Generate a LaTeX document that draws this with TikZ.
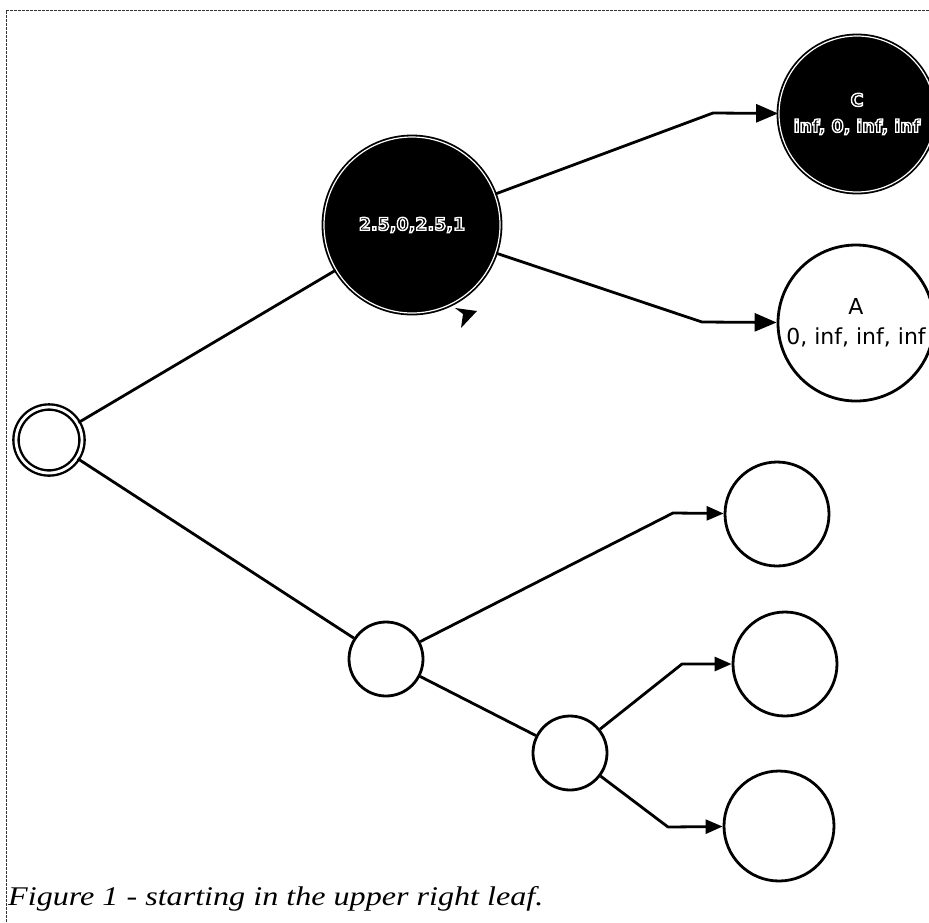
\documentclass[tikz,border=0pt]{standalone}
\usepackage{fontspec}
\setmainfont{Liberation Serif}
\setsansfont{DejaVu Sans}
\usetikzlibrary{arrows.meta}

% outlined lettering for labels on dark discs: black fill, white stroke
\newcommand\halotext[1]{%
  \special{pdf:code 2 Tr 1.4 w 1 1 1 RG}#1\special{pdf:code 0 Tr 0 0 0 RG}}

\tikzset{
  edge/.style={line width=2.8pt, line join=round},
  bigarrow/.style={edge, -{Triangle[length=22pt,width=18pt]}},
  smallarrow/.style={edge, -{Triangle[length=17pt,width=14pt]}},
  plain/.style={circle, draw, line width=2.8pt, fill=white, inner sep=0pt},
  dark/.style={circle, fill=black, draw=black, double=white,
    double distance=1.2pt, line width=1.8pt, inner sep=0pt, align=center,
    font=\sffamily\bfseries\fontsize{17.5}{26}\selectfont},
  startnode/.style={circle, draw, double=white, double distance=2.8pt,
    line width=2.4pt, fill=white, inner sep=0pt, minimum size=66pt},
  frameline/.style={line width=0.9pt, black!80, dash pattern=on 3pt off 1pt},
}

\begin{document}
\begin{tikzpicture}[x=1pt, y=-1pt]
  \useasboundingbox (0,0) rectangle (929,922);
  \clip (0,0) rectangle (929,922);

  % page frame
  \draw[frameline] (6,922) -- (6,10) -- (929,10);

  % nodes
  \node[startnode] (root) at (49,440) {};
  \node[dark, minimum size=176pt] (B) at (412,225) {\halotext{2.5,0,2.5,1}};
  \node[dark, minimum size=156pt] (C) at (857,114)
    {\halotext{C}\\\halotext{inf, 0, inf, inf}};
  \node[plain, minimum size=156pt, align=center,
    font=\sffamily\fontsize{22}{30}\selectfont] (A) at (856,323)
    {A\\0, inf, inf, inf};
  \node[plain, minimum size=74pt] (L1) at (386,659) {};
  \node[plain, minimum size=74pt] (L2) at (570,753) {};
  \node[plain, minimum size=104pt] (P) at (777,514) {};
  \node[plain, minimum size=104pt] (Q) at (785,664) {};
  \node[plain, minimum size=110pt] (R) at (779,826) {};

  % bend points
  \coordinate (bC) at (713,113);
  \coordinate (bA) at (702,322);
  \coordinate (bP) at (673,513);
  \coordinate (bQ) at (682,664);
  \coordinate (bR) at (668,827);

  % connectors
  \draw[edge] (root) -- (B);
  \draw[edge] (root) -- (L1);
  \draw[bigarrow] (B) -- (bC) -- (C);
  \draw[bigarrow] (B) -- (bA) -- (A);
  \draw[smallarrow] (L1) -- (bP) -- (P);
  \draw[edge] (L1) -- (L2);
  \draw[smallarrow] (L2) -- (bQ) -- (Q);
  \draw[smallarrow] (L2) -- (bR) -- (R);

  % loose arrowhead under the dark disc
  \fill (455,308) -- (477,311) -- (461,328) -- (463,314) -- cycle;

  % caption
  \node[anchor=base west, inner sep=0pt,
    font=\rmfamily\itshape\fontsize{27}{32}\selectfont] (cap) at (8,905)
    {\scalebox{1.19}[1]{Figure 1 - starting in the upper right leaf.}};
\end{tikzpicture}
\end{document}
